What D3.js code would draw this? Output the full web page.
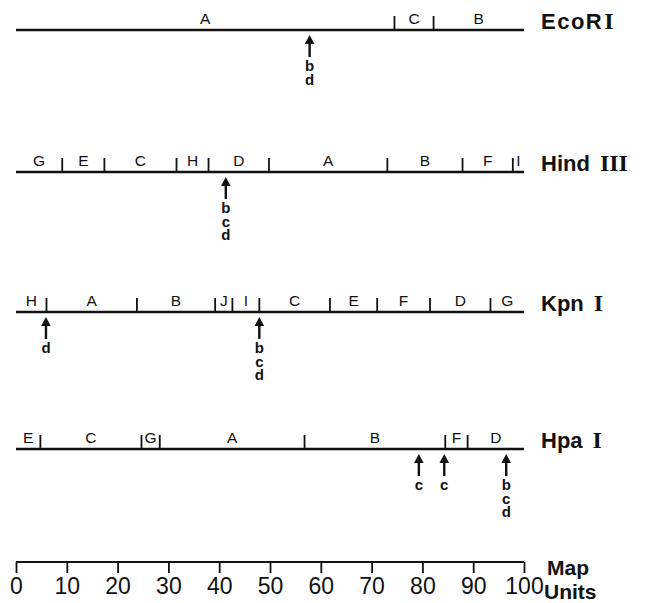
<!DOCTYPE html>
<html>
<head>
<meta charset="utf-8">
<script src="https://cdn.jsdelivr.net/npm/d3@7"></script>
<style>
  html, body { margin: 0; padding: 0; background: #fff; }
  svg { display: block; }
  .stack { writing-mode: vertical-rl; text-orientation: upright; }
</style>
</head>
<body>
<script>
// ---- data (map units, 0-100) ----
const enzymeNames = ["EcoRI", "Hind", "Kpn", "Hpa"];
const enzymeNumerals = ["", "III", "I", "I"];

const ecoriSites = [74.5, 82.2];
const ecoriFragments = ["A", "C", "B"];
const ecoriMarkers = [57.8];
const ecoriMarkerLabels = ["bd"];

const hindSites = [9.1, 17.4, 31.6, 37.9, 49.8, 73.1, 87.9, 97.8];
const hindFragments = ["G", "E", "C", "H", "D", "A", "B", "F", "I"];
const hindMarkers = [41.3];
const hindMarkerLabels = ["bcd"];

const kpnSites = [6.0, 23.8, 39.2, 42.6, 47.9, 61.8, 71.1, 81.5, 93.4];
const kpnFragments = ["H", "A", "B", "J", "I", "C", "E", "F", "D", "G"];
const kpnMarkers = [5.9, 47.9];
const kpnMarkerLabels = ["d", "bcd"];

const hpaSites = [4.8, 24.7, 28.3, 56.8, 84.5, 88.9];
const hpaFragments = ["E", "C", "G", "A", "B", "F", "D"];
const hpaMarkers = [79.3, 84.3, 96.5];
const hpaMarkerLabels = ["c", "c", "bcd"];

const axisTicks = [0, 10, 20, 30, 40, 50, 60, 70, 80, 90, 100];
const axisTitle = ["Map", "Units"];

// ---- layout ----
const W = 651, H = 603;
const svg = d3.select("body").append("svg").attr("width", W).attr("height", H);
const x = d3.scaleLinear().domain([0, 100]).range([16, 524]);
const rowY = d3.scaleOrdinal().domain(enzymeNames).range([30, 172, 312, 449]);
const FONT = "'Liberation Sans', Arial, sans-serif";

const maps = [
  { name: "EcoRI", sites: ecoriSites, frags: ecoriFragments, markers: ecoriMarkers, mlabels: ecoriMarkerLabels },
  { name: "Hind", sites: hindSites, frags: hindFragments, markers: hindMarkers, mlabels: hindMarkerLabels },
  { name: "Kpn", sites: kpnSites, frags: kpnFragments, markers: kpnMarkers, mlabels: kpnMarkerLabels },
  { name: "Hpa", sites: hpaSites, frags: hpaFragments, markers: hpaMarkers, mlabels: hpaMarkerLabels }
];

maps.forEach((m, i) => {
  const y = rowY(m.name);
  const g = svg.append("g");
  // main line
  g.append("line").attr("x1", x(0)).attr("x2", x(100)).attr("y1", y).attr("y2", y)
    .attr("stroke", "#111").attr("stroke-width", 2.6);
  // cut sites
  g.selectAll("line.site").data(m.sites).enter().append("line").attr("class", "site")
    .attr("x1", d => x(d)).attr("x2", d => x(d)).attr("y1", y).attr("y2", y - 14)
    .attr("stroke", "#111").attr("stroke-width", 1.8);
  // fragment labels
  const bounds = [0, ...m.sites, 100];
  g.selectAll("text.frag").data(m.frags).enter().append("text").attr("class", "frag")
    .attr("x", (d, j) => x((bounds[j] + bounds[j + 1]) / 2))
    .attr("y", y - 6)
    .attr("text-anchor", "middle")
    .attr("font-family", FONT).attr("font-size", 15.5).attr("fill", "#111")
    .text(d => d);
  // markers (arrows)
  m.markers.forEach((p, k) => {
    const cx = x(p);
    g.append("line").attr("x1", cx).attr("x2", cx).attr("y1", y + 12).attr("y2", y + 27)
      .attr("stroke", "#111").attr("stroke-width", 2.4);
    g.append("path")
      .attr("d", `M${cx},${y + 5} L${cx - 4.8},${y + 14} L${cx + 4.8},${y + 14} Z`)
      .attr("fill", "#111");
    // stacked letters, one text element written vertically
    g.append("text").attr("class", "stack")
      .attr("x", cx).attr("y", y + 27)
      .attr("font-family", FONT).attr("font-weight", "bold").attr("font-size", 15)
      .style("letter-spacing", "-3.5px")
      .attr("fill", "#111")
      .text(m.mlabels[k]);
  });
  // enzyme name
  const t = g.append("text").attr("x", 541).attr("y", y - 1)
    .attr("font-family", FONT).attr("font-size", 22).attr("fill", "#111");
  t.append("tspan").attr("font-weight", "bold").attr("letter-spacing", m.name === "EcoRI" ? 1.5 : 0)
    .text(m.name === "EcoRI" ? "EcoR" : m.name);
  const numeral = m.name === "EcoRI" ? "I" : enzymeNumerals[i];
  t.append("tspan").attr("dx", m.name === "EcoRI" ? 1 : 10)
    .attr("font-family", "'Liberation Serif', 'DejaVu Serif', serif").attr("font-weight", "bold")
    .attr("font-size", 24)
    .text(numeral);
});

// ---- bottom axis ----
const axisY = 562;
const axisG = svg.append("g").attr("transform", `translate(0,${axisY})`);
axisG.call(d3.axisBottom(x).tickValues(axisTicks).tickSize(11).tickPadding(5).tickSizeOuter(0).tickFormat(d3.format("d")));
axisG.select(".domain").attr("stroke", "#111").attr("stroke-width", 2.2).attr("d", `M${x(0)},0H${x(100)}`);
axisG.selectAll(".tick line").attr("stroke", "#111").attr("stroke-width", 1.8);
axisG.selectAll(".tick text").attr("font-family", FONT).attr("font-size", 23).attr("fill", "#111");

svg.selectAll("text.axtitle").data(axisTitle).enter().append("text").attr("class", "axtitle")
  .attr("x", (d, i) => i === 0 ? 547 : 544)
  .attr("y", (d, i) => 575 + i * 24)
  .attr("font-family", FONT).attr("font-weight", "bold").attr("font-size", 21).attr("fill", "#111")
  .text(d => d);
</script>
</body>
</html>
